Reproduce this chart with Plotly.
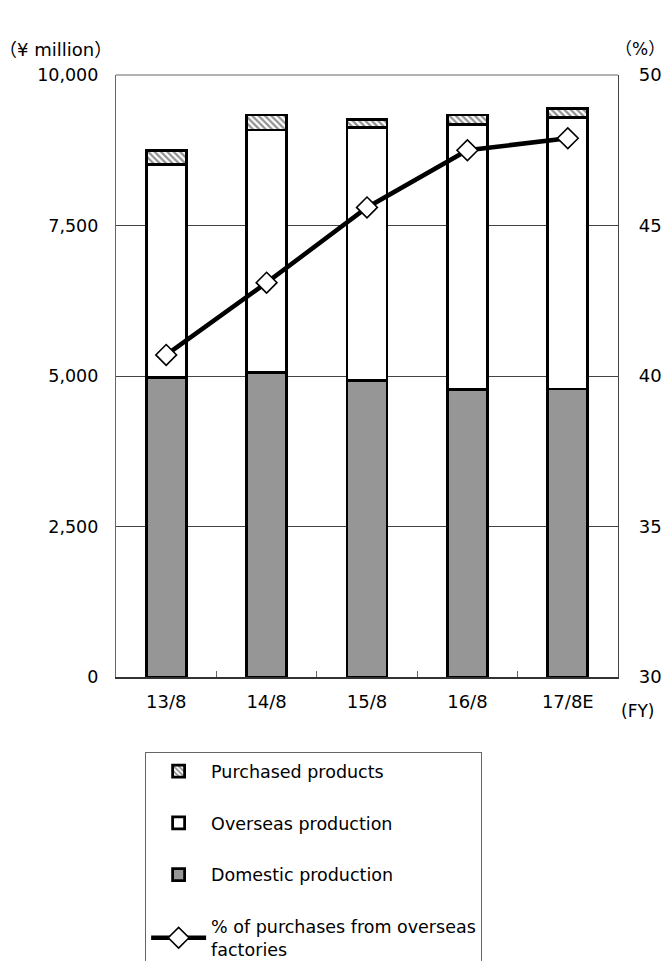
import plotly.graph_objects as go

# Fiscal years
years = ["13/8", "14/8", "15/8", "16/8", "17/8E"]

# Purchases by source (¥ million)
domestic = [4980, 5060, 4925, 4770, 4785]
overseas = [3540, 4025, 4200, 4410, 4510]
purchased = [220, 250, 140, 155, 150]

# Share of purchases from overseas factories (%)
overseas_share = [40.7, 43.1, 45.6, 47.5, 47.9]

FONT = "DejaVu Sans, Noto Sans CJK JP, sans-serif"
bar_line = dict(color="black", width=2.8)

fig = go.Figure()

fig.add_trace(go.Bar(
    x=years, y=domestic, name="Domestic production",
    marker=dict(color="#969696", line=bar_line),
    legendrank=3, legendgroup="d",
))
fig.add_trace(go.Bar(
    x=years, y=overseas, name="Overseas production",
    marker=dict(color="white", line=bar_line),
    legendrank=2, legendgroup="o",
))
fig.add_trace(go.Bar(
    x=years, y=purchased, name="Purchased products",
    marker=dict(
        color="white", line=bar_line,
        pattern=dict(shape="\\", fgcolor="#222222", bgcolor="white",
                     size=4.5, solidity=0.5),
    ),
    legendrank=1, legendgroup="p",
))
fig.add_trace(go.Scatter(
    x=years, y=overseas_share, yaxis="y2", mode="lines+markers",
    name="% of purchases from overseas<br>factories",
    line=dict(color="black", width=4.5),
    marker=dict(symbol="diamond", size=16, color="white",
                line=dict(color="black", width=1.6)),
    legendrank=4, legendgroup="s",
))

fig.update_layout(
    width=666, height=961,
    margin=dict(l=116, r=48, t=75, b=284, autoexpand=False),
    paper_bgcolor="white", plot_bgcolor="white",
    barmode="stack", bargap=0.6,
    font=dict(family=FONT, size=17, color="black"),
    showlegend=True,
    legend=dict(
        x=0.058, y=-0.125, xanchor="left", yanchor="top",
        traceorder="grouped", tracegroupgap=26,
        bordercolor="#666666", borderwidth=1,
        itemwidth=55,
        font=dict(family=FONT, size=17.5, color="black"),
    ),
    xaxis=dict(
        type="category", showline=True, linecolor="#333333", linewidth=1.5,
        ticks="inside", tickson="boundaries", ticklen=6,
        tickcolor="#666666", tickwidth=1, showgrid=False,
        tickfont=dict(size=18), ticklabelstandoff=8,
    ),
    yaxis=dict(
        range=[0, 10000], dtick=2500, tickformat=",d",
        showgrid=True, gridcolor="#444444", gridwidth=1,
        showline=True, linecolor="#666666", linewidth=1.2,
        ticks="", zeroline=False, ticklabelstandoff=13,
        tickfont=dict(size=17.5),
    ),
    yaxis2=dict(
        overlaying="y", side="right", range=[30, 50], dtick=5,
        showgrid=False, showline=True, linecolor="#444444", linewidth=1.2,
        ticks="", zeroline=False, ticklabelstandoff=16,
        tickfont=dict(size=18),
    ),
    shapes=[dict(type="line", xref="paper", yref="paper",
                 x0=0, x1=1, y0=1, y1=1,
                 line=dict(color="#999999", width=1.5))],
    annotations=[
        dict(text="（¥ million）", xref="paper", yref="paper",
             x=-0.12, y=1.043, xanchor="center", yanchor="middle",
             showarrow=False, font=dict(size=18)),
        dict(text="（%）", xref="paper", yref="paper",
             x=1.0438, y=1.043, xanchor="center", yanchor="middle",
             showarrow=False, font=dict(size=17)),
        dict(text="(FY)", xref="paper", yref="paper",
             x=1.038, y=-0.0565, xanchor="center", yanchor="middle",
             showarrow=False, font=dict(size=17)),
    ],
)

fig.write_html("out.html")
